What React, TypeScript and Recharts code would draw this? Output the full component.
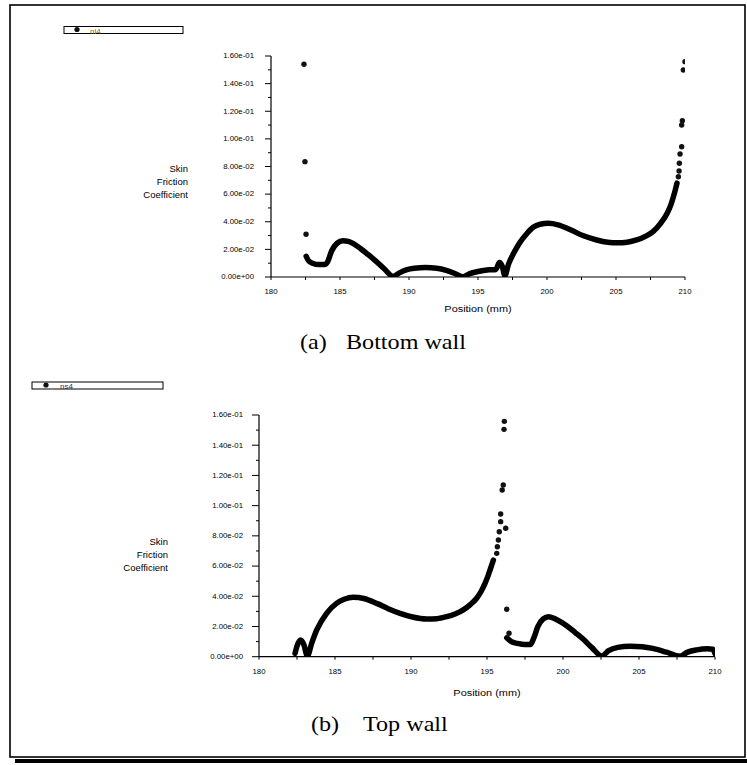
import React from "react";
import { ComposedChart, Line, Scatter, XAxis, YAxis } from "recharts";

// Bottom wall (nl4): continuous part of the profile
const BOTTOM_CURVE_X = [
  182.55, 182.7, 183.0, 183.5, 183.9, 184.1, 184.4, 184.8, 185.2, 185.6, 186.0, 186.5,
  187.0, 187.6, 188.2, 188.85, 189.3, 189.8, 190.4, 191.2, 192.0, 192.7, 193.4, 193.9,
  194.4, 195.0, 195.8, 196.3, 196.55, 196.75, 196.95, 197.2, 197.6, 198.0, 198.5, 199.0,
  199.5, 200.1, 200.8, 201.7, 202.6, 203.6, 204.4, 205.1, 205.8, 206.5, 207.2, 207.7,
  208.2, 208.7, 209.0, 209.27, 209.42,
];
const BOTTOM_CURVE_V = [
  0.015, 0.012, 0.01, 0.009, 0.009, 0.011, 0.019, 0.0245, 0.0263, 0.0258, 0.024, 0.0205,
  0.0165, 0.0115, 0.006, 0.0005, 0.003, 0.0052, 0.0064, 0.0068, 0.0063, 0.0048, 0.0022, 0.0002,
  0.0025, 0.004, 0.0052, 0.0055, 0.0105, 0.008, 0.001, 0.009, 0.0175, 0.0245, 0.031, 0.036,
  0.0382, 0.0389, 0.0378, 0.0342, 0.03, 0.0268, 0.0252, 0.0248, 0.0252, 0.0268, 0.0298, 0.033,
  0.0385, 0.046, 0.053, 0.062, 0.068,
];
// Bottom wall: isolated cells near the ends
const BOTTOM_DOT_X = [182.39, 182.46, 182.54, 209.52, 209.57, 209.59, 209.64, 209.76, 209.76, 209.81, 209.88, 210.0];
const BOTTOM_DOT_V = [0.154, 0.0835, 0.031, 0.0726, 0.0767, 0.0823, 0.089, 0.0943, 0.11, 0.1132, 0.1499, 0.1559];

// Top wall (ns4): two continuous parts
const TOP_CURVE1_X = [
  182.37, 182.5, 182.74, 182.95, 183.18, 183.47, 183.8, 184.45, 185.1, 185.6, 186.2, 186.9,
  187.74, 188.5, 189.28, 190.1, 191.03, 191.7, 192.35, 192.9, 193.44, 193.9, 194.32, 194.6,
  194.87, 195.05, 195.2, 195.42,
];
const TOP_CURVE1_V = [
  0.0022, 0.007, 0.011, 0.008, 0.0005, 0.009, 0.0177, 0.0287, 0.0353, 0.038, 0.0393, 0.0385,
  0.0353, 0.0318, 0.0287, 0.0263, 0.025, 0.0252, 0.0265, 0.0283, 0.031, 0.0345, 0.0387, 0.043,
  0.0486, 0.053, 0.0574, 0.064,
];
const TOP_CURVE2_X = [
  196.3, 196.6, 197.0, 197.5, 197.85, 198.1, 198.35, 198.7, 199.05, 199.6, 200.24, 200.8,
  201.34, 201.9, 202.55, 203.0, 203.6, 204.4, 205.2, 205.9, 206.8, 207.7, 208.2, 208.8,
  209.5, 209.85, 210.0,
];
const TOP_CURVE2_V = [
  0.0125, 0.01, 0.0088, 0.008, 0.008, 0.013, 0.02, 0.025, 0.0265, 0.0245, 0.0205, 0.016,
  0.0115, 0.006, 0.0005, 0.004, 0.0062, 0.007, 0.0066, 0.0055, 0.003, 0.0003, 0.003, 0.0045,
  0.0052, 0.005, 0.002,
];
const TOP_DOT_X = [195.64, 195.68, 195.75, 195.81, 195.9, 195.9, 196.0, 196.07, 196.12, 196.14, 196.23, 196.3, 196.45];
const TOP_DOT_V = [0.0684, 0.0728, 0.0773, 0.0827, 0.0894, 0.0945, 0.1104, 0.1137, 0.1505, 0.1558, 0.085, 0.0314, 0.0155];

const Y_TICKS = [0, 0.01, 0.02, 0.03, 0.04, 0.05, 0.06, 0.07, 0.08, 0.09, 0.1, 0.11, 0.12, 0.13, 0.14, 0.15, 0.16];
const X_TICKS = [180, 182.5, 185, 187.5, 190, 192.5, 195, 197.5, 200, 202.5, 205, 207.5, 210];

const Y_LABEL = ["Skin", "Friction", "Coefficient"];
const X_LABEL = "Position (mm)";

const SANS = "'Liberation Sans', Arial, sans-serif";
const SERIF = "'Liberation Serif', 'Times New Roman', serif";
const SX = 1.15; // text in the figure is slightly wide

const zip = (xs: number[], vs: number[]) => xs.map((x, i) => ({ x, v: vs[i] }));

function fmtSci(v: number) {
  if (v === 0) return "0.00e+00";
  const exp = Math.floor(Math.log10(v) + 1e-9);
  const mant = v / Math.pow(10, exp);
  const e = Math.abs(exp).toString().padStart(2, "0");
  return `${mant.toFixed(2)}e${exp < 0 ? "-" : "+"}${e}`;
}

const isStep = (v: number, step: number) => Math.abs(v / step - Math.round(v / step)) < 1e-6;

function YTick(props: any) {
  const { x, y, payload, gap, major } = props;
  const big = isStep(payload.value, 0.02);
  return (
    <g>
      <line x1={x - (big ? major : 3)} x2={x} y1={y} y2={y} stroke="#000" strokeWidth={1} />
      {big && (
        <text
          transform={`translate(${x - gap},${y}) scale(${SX},1)`}
          textAnchor="end"
          dominantBaseline="central"
          fontSize={6.8}
          fontFamily={SANS}
          fill="#000"
        >
          {fmtSci(payload.value)}
        </text>
      )}
    </g>
  );
}

function XTick(props: any) {
  const { x, y, payload } = props;
  const big = isStep(payload.value, 5);
  return (
    <g>
      <line x1={x} x2={x} y1={y} y2={y + 3} stroke="#000" strokeWidth={1} />
      {big && (
        <text
          transform={`translate(${x},${y + 15}) scale(${SX},1)`}
          textAnchor="middle"
          dominantBaseline="central"
          fontSize={6.8}
          fontFamily={SANS}
          fill="#000"
        >
          {payload.value}
        </text>
      )}
    </g>
  );
}

const cellDot = (p: any) => <circle cx={p.cx} cy={p.cy} r={2.7} fill="#111" />;

interface PlotProps {
  top: number;
  height: number;
  margin: { top: number; right: number; bottom: number; left: number };
  curves: { x: number; v: number }[][];
  dots: { x: number; v: number }[];
  gap: number;
  major: number;
}

function WallPlot({ top, height, margin, curves, dots, gap, major }: PlotProps) {
  return (
    <div style={{ position: "absolute", left: 0, top }}>
      <ComposedChart width={747} height={height} margin={margin}>
        <XAxis
          type="number"
          dataKey="x"
          domain={[180, 210]}
          ticks={X_TICKS}
          interval={0}
          allowDataOverflow
          height={20}
          tickSize={0}
          tickMargin={0}
          tickLine={false}
          axisLine={{ stroke: "#000", strokeWidth: 1.2 }}
          tick={(p: any) => <XTick {...p} />}
        />
        <YAxis
          type="number"
          domain={[0, 0.16]}
          ticks={Y_TICKS}
          interval={0}
          allowDataOverflow
          width={60}
          tickSize={0}
          tickMargin={0}
          tickLine={false}
          axisLine={{ stroke: "#000", strokeWidth: 1.2 }}
          tick={(p: any) => <YTick {...p} gap={gap} major={major} />}
        />
        {curves.map((c, i) => (
          <Line
            key={i}
            data={c}
            dataKey="v"
            type="monotone"
            stroke="#000"
            strokeWidth={5.5}
            strokeLinecap="round"
            strokeLinejoin="round"
            dot={false}
            activeDot={false}
            isAnimationActive={false}
          />
        ))}
        <Scatter data={dots} dataKey="v" fill="#111" shape={cellDot} isAnimationActive={false} />
      </ComposedChart>
    </div>
  );
}

function StretchText({ x, y, size, anchor, family, sx = SX, children }: any) {
  return (
    <text
      transform={`translate(${x},${y}) scale(${sx},1)`}
      textAnchor={anchor}
      dominantBaseline="central"
      fontSize={size}
      fontFamily={family}
      fill="#000"
    >
      {children}
    </text>
  );
}

function Legend({ x, y, w, dotX, textX, name, color }: any) {
  return (
    <g>
      <rect x={x} y={y} width={w} height={7} fill="#fff" stroke="#000" strokeWidth={1} />
      <circle cx={dotX} cy={y + 3} r={2.6} fill="#111" />
      <text x={textX} y={y + 7} fontSize={8} fontFamily={SANS} fill={color}>
        {name}
      </text>
    </g>
  );
}

export default function App() {
  return (
    <div style={{ position: "absolute", left: 0, top: 0, width: 747, height: 765, background: "#fff" }}>
      <WallPlot
        top={0}
        height={300}
        margin={{ top: 56, right: 62, bottom: 3, left: 211 }}
        curves={[zip(BOTTOM_CURVE_X, BOTTOM_CURVE_V)]}
        dots={zip(BOTTOM_DOT_X, BOTTOM_DOT_V)}
        gap={17}
        major={6}
      />
      <WallPlot
        top={360}
        height={320}
        margin={{ top: 55, right: 32, bottom: 3.3, left: 199 }}
        curves={[zip(TOP_CURVE1_X, TOP_CURVE1_V), zip(TOP_CURVE2_X, TOP_CURVE2_V)]}
        dots={zip(TOP_DOT_X, TOP_DOT_V)}
        gap={16}
        major={7}
      />
      <svg
        width={747}
        height={765}
        style={{ position: "absolute", left: 0, top: 0, pointerEvents: "none" }}
      >
        <rect x={10} y={5} width={735} height={752} fill="none" stroke="#000" strokeWidth={1.6} />
        <line x1={15} x2={747} y1={761} y2={761} stroke="#000" strokeWidth={4} />

        <Legend x={64} y={26.5} w={119} dotX={77} textX={90} name="nl4" color="#9a6212" />
        <Legend x={32} y={382} w={131} dotX={46} textX={60} name="ns4" color="#2b2b4a" />

        {Y_LABEL.map((t, i) => (
          <StretchText key={"a" + i} x={188} y={168 + i * 13} size={9.5} sx={1} anchor="end" family={SANS}>
            {t}
          </StretchText>
        ))}
        {Y_LABEL.map((t, i) => (
          <StretchText key={"b" + i} x={168} y={541 + i * 13} size={9.5} sx={1} anchor="end" family={SANS}>
            {t}
          </StretchText>
        ))}

        <StretchText x={478} y={309} size={9.5} anchor="middle" family={SANS}>
          {X_LABEL}
        </StretchText>
        <StretchText x={487} y={693} size={9.5} anchor="middle" family={SANS}>
          {X_LABEL}
        </StretchText>

        <StretchText x={300} y={342} size={21} anchor="start" family={SERIF}>
          (a)
        </StretchText>
        <StretchText x={346} y={342} size={21} anchor="start" family={SERIF}>
          Bottom wall
        </StretchText>
        <StretchText x={311} y={724} size={21} anchor="start" family={SERIF}>
          (b)
        </StretchText>
        <StretchText x={363} y={724} size={21} anchor="start" family={SERIF}>
          Top wall
        </StretchText>
      </svg>
    </div>
  );
}
